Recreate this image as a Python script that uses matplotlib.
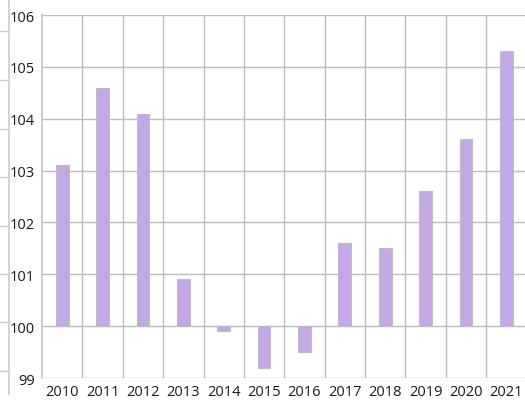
import numpy as np
import matplotlib.pyplot as plt
from matplotlib.lines import Line2D

plt.rcParams['font.family'] = ['Open Sans', 'DejaVu Sans']

# DATA
years = ['2010', '2011', '2012', '2013', '2014', '2015',
         '2016', '2017', '2018', '2019', '2020', '2021']
values = [103.1, 104.6, 104.1, 100.9, 99.9, 99.2,
          99.5, 101.6, 101.5, 102.6, 103.6, 105.3]
base = 100
y_ticks = [99, 100, 101, 102, 103, 104, 105, 106]

W, H = 525, 402
fig = plt.figure(figsize=(W / 100, H / 100), dpi=100)
# plot area runs a bit past the right edge of the picture
ax = fig.add_axes([42 / W, 1 - 379 / H, 484.5 / W, 363 / H])

x = np.arange(len(years))
heights = [v - base for v in values]
ax.bar(x, heights, bottom=base, width=0.315, color='#c3a8e5',
       edgecolor='#bcbcc4', linewidth=0.8, zorder=3)

ax.set_xlim(-0.5, len(years) - 0.5)
ax.set_ylim(99, 106)
ax.set_yticks(y_ticks)
ax.set_xticks(x)
ax.set_xticklabels(years)

# grid: horizontal at integers, vertical between categories
grid_c = '#bcbcbc'
for yv in y_ticks:
    ax.axhline(yv, color=grid_c, lw=1.0, zorder=1)
for b in np.arange(0.5, len(years) - 0.5, 1.0):
    ax.axvline(b, color=grid_c, lw=1.0, zorder=1)

for s in ['top', 'right', 'bottom']:
    ax.spines[s].set_visible(False)
ax.spines['left'].set_color('#cccccc')
ax.spines['left'].set_linewidth(1.4)

ax.tick_params(axis='both', length=0, labelsize=10.5, colors='#1a1a1a')
ax.tick_params(axis='y', pad=5)
ax.tick_params(axis='x', pad=4)

# remnant of a neighbouring chart at the left edge
fig.add_artist(Line2D([8.5 / W, 8.5 / W], [1.0, 1 - 395 / H],
                      color='#cccccc', lw=1.2))
for yp in [32, 81, 130, 178, 227, 275, 323, 372]:
    fig.add_artist(Line2D([0, 8.5 / W], [1 - yp / H, 1 - yp / H],
                          color='#cccccc', lw=1.0))

fig.savefig('out.png', dpi=100)
